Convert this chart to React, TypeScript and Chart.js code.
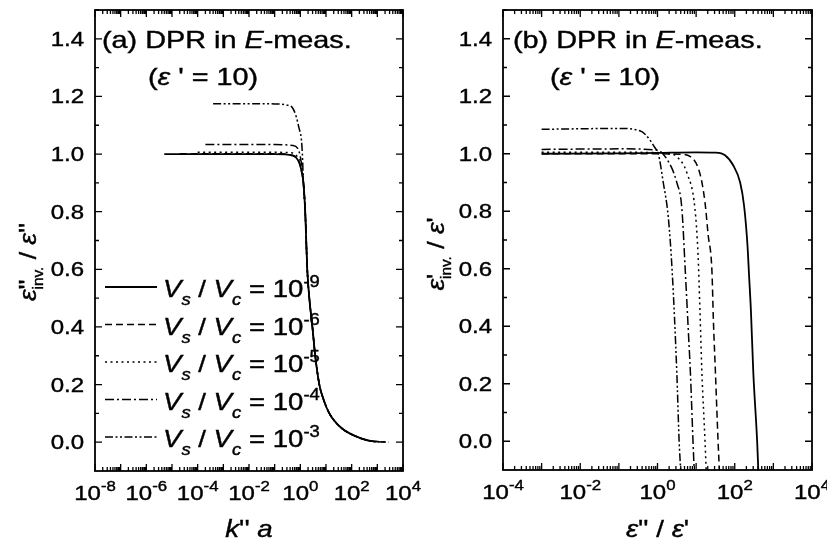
import React, { useEffect, useRef } from "react";
import { Chart, registerables } from "chart.js";
Chart.register(...registerables);

const FONT = '"Liberation Sans", Arial, Helvetica, sans-serif';

// ---------- data: panel (a)  x = k''a, y = eps''_inv / eps'' ----------
const aX_9 = [5e-6, 1e-4, 0.01, 0.1, 0.5, 0.91, 1.12, 1.32, 1.55, 1.86, 2.24, 2.95, 3.8, 5.5, 7.9, 13.5, 39, 148, 480, 890];
const aY_9 = [1.0, 1.0, 1.0, 1.0, 0.995, 0.97, 0.94, 0.9, 0.8, 0.6, 0.5, 0.4, 0.3, 0.2, 0.15, 0.1, 0.05, 0.02, 0.005, 0.002];
const aX_6 = [2e-5, 1e-4, 0.01, 0.1, 0.5, 0.91, 1.12, 1.32, 1.55, 1.86, 2.24, 2.95, 3.8, 5.5, 7.9, 13.5, 39, 148, 480, 1260];
const aY_6 = [1.001, 1.001, 1.001, 1.001, 0.996, 0.97, 0.94, 0.9, 0.8, 0.6, 0.5, 0.4, 0.3, 0.2, 0.15, 0.1, 0.05, 0.02, 0.005, 0.001];
const aX_5 = [1e-4, 0.01, 0.1, 0.5, 0.79, 1.0, 1.12, 1.32, 1.55, 1.86, 2.24, 2.95, 3.8, 5.5, 7.9, 13.5, 39, 148, 480, 1600];
const aY_5 = [1.006, 1.006, 1.006, 1.004, 0.99, 0.975, 0.94, 0.9, 0.8, 0.6, 0.5, 0.4, 0.3, 0.2, 0.15, 0.1, 0.05, 0.02, 0.005, 0.001];
const aX_4 = [2e-4, 0.01, 0.1, 0.5, 0.79, 1.05, 1.32, 1.55, 1.86, 2.24, 2.95, 3.8, 5.5, 7.9, 13.5, 39, 148, 480, 2000];
const aY_4 = [1.033, 1.033, 1.033, 1.03, 1.02, 0.98, 0.9, 0.8, 0.6, 0.5, 0.4, 0.3, 0.2, 0.15, 0.1, 0.05, 0.02, 0.005, 0.001];
const aX_3 = [4e-4, 0.01, 0.1, 0.29, 0.5, 0.69, 0.89, 1.1, 1.2, 1.32, 1.55, 1.86, 2.24, 2.95, 3.8, 5.5, 7.9, 13.5, 39, 148, 480, 890, 2800];
const aY_3 = [1.175, 1.175, 1.174, 1.17, 1.16, 1.13, 1.09, 1.05, 1.0, 0.9, 0.8, 0.6, 0.5, 0.4, 0.3, 0.2, 0.15, 0.1, 0.05, 0.02, 0.005, 0.002, 0.0];

// ---------- data: panel (b)  x = eps''/eps', y = eps'_inv / eps' ----------
const bX_9 = [0.001, 0.1, 1, 10, 31.6, 56, 91, 138, 174, 214, 234, 263, 302, 380, 407];
const bY_9 = [1.0, 1.001, 1.003, 1.005, 1.004, 0.995, 0.96, 0.9, 0.82, 0.68, 0.58, 0.45, 0.24, 0.0, -0.1];
const bX_6 = [0.001, 0.1, 1, 4, 7.1, 12.6, 17, 20.4, 25.7, 28, 31.6, 37, 40];
const bY_6 = [1.0, 1.0, 1.0, 0.998, 0.99, 0.93, 0.83, 0.72, 0.59, 0.42, 0.24, 0.0, -0.1];
const bX_5 = [0.001, 0.1, 1, 2, 3.16, 5.9, 9.3, 11.2, 12.6, 14.1, 17, 18.2];
const bY_5 = [1.005, 1.005, 1.004, 1.0, 0.99, 0.93, 0.81, 0.65, 0.45, 0.24, 0.0, -0.1];
const bX_4 = [0.001, 0.1, 1, 1.78, 3.16, 4.27, 5.25, 6.3, 7.1, 8.3, 8.9];
const bY_4 = [1.015, 1.017, 1.012, 0.98, 0.9, 0.81, 0.59, 0.38, 0.24, 0.0, -0.1];
const bX_3 = [0.001, 0.1, 0.35, 0.5, 0.87, 1.05, 1.41, 1.9, 2.4, 3.16, 3.63, 3.98];
const bY_3 = [1.085, 1.088, 1.08, 1.065, 1.02, 1.0, 0.9, 0.78, 0.59, 0.24, 0.0, -0.1];

// ---------- labels ----------
const legendExponents = ["-9", "-6", "-5", "-4", "-3"];
const yTickLabels = ["0.0", "0.2", "0.4", "0.6", "0.8", "1.0", "1.2", "1.4"];
const aXTickExps = [-8, -6, -4, -2, 0, 2, 4];
const bXTickExps = [-4, -2, 0, 2, 4];

const STYLES = [
  { dash: [] as number[], width: 1.8 },
  { dash: [7, 4], width: 1.5 },
  { dash: [2, 3.5], width: 1.5 },
  { dash: [9, 3, 2, 3], width: 1.5 },
  { dash: [8, 2.5, 2, 2.5, 2, 2.5], width: 1.5 },
];

type Part = { t: string; size: number; italic?: boolean; dy?: number; noAdv?: boolean };
const fontOf = (p: Part) => `${p.italic ? "italic " : ""}${p.size}px ${FONT}`;

function drawParts(ctx: CanvasRenderingContext2D, parts: Part[], x: number, y: number, align: string, sx: number) {
  const ws: number[] = [];
  let w = 0;
  for (const p of parts) {
    ctx.font = fontOf(p);
    const m = ctx.measureText(p.t).width * sx;
    ws.push(m);
    if (!p.noAdv) w += m;
  }
  let cx = align === "center" ? x - w / 2 : align === "right" ? x - w : x;
  parts.forEach((p, i) => {
    ctx.save();
    ctx.font = fontOf(p);
    ctx.textAlign = "left";
    ctx.textBaseline = "alphabetic";
    ctx.fillStyle = "#000";
    ctx.strokeStyle = "#000";
    ctx.lineWidth = 0.4;
    ctx.setLineDash([]);
    ctx.translate(cx, y + (p.dy || 0));
    ctx.scale(sx, 1);
    ctx.fillText(p.t, 0, 0);
    ctx.strokeText(p.t, 0, 0);
    ctx.restore();
    if (!p.noAdv) cx += ws[i];
  });
}

interface PanelCfg {
  xMin: number;
  xMax: number;
  firstDecade: number;
  lastDecade: number;
  tickExps: number[];
  series: { x: number[]; y: number[] }[];
  pad: { left: number; right: number; top: number; bottom: number };
  title: Part[];
  titleX: number;
  sub: Part[];
  subX: number;
  yTitle: Part[];
  yTitleX: number;
  yTitleY: number;
  xTitle: Part[];
  legend: boolean;
}

function makePlugin(cfg: PanelCfg) {
  return {
    id: "customAxes",
    afterDraw(chart: any) {
      const ctx: CanvasRenderingContext2D = chart.ctx;
      const a = chart.chartArea;
      const xs = chart.scales.x;
      const ys = chart.scales.y;
      ctx.save();
      ctx.strokeStyle = "#000";
      ctx.setLineDash([]);
      ctx.lineWidth = 1.3;
      ctx.beginPath();
      const seg = (x1: number, y1: number, x2: number, y2: number) => {
        ctx.moveTo(x1, y1);
        ctx.lineTo(x2, y2);
      };
      for (let d = cfg.firstDecade; d <= cfg.lastDecade; d++) {
        const px = xs.getPixelForValue(Math.pow(10, d));
        seg(px, a.bottom, px, a.bottom - 7);
        seg(px, a.top, px, a.top + 7);
        if (d < cfg.lastDecade) {
          for (let m = 2; m <= 9; m++) {
            const p = xs.getPixelForValue(m * Math.pow(10, d));
            seg(p, a.bottom, p, a.bottom - 4);
            seg(p, a.top, p, a.top + 4);
          }
        }
      }
      yTickLabels.forEach((lab) => {
        const v = parseFloat(lab);
        const py = ys.getPixelForValue(v);
        seg(a.left, py, a.left + 7, py);
        seg(a.right, py, a.right - 7, py);
        const pm = ys.getPixelForValue(v + 0.1);
        seg(a.left, pm, a.left + 4, pm);
        seg(a.right, pm, a.right - 4, pm);
      });
      ctx.stroke();
      ctx.lineWidth = 1.8;
      ctx.strokeRect(a.left, a.top, a.right - a.left, a.bottom - a.top);
      ctx.restore();

      // y tick labels
      yTickLabels.forEach((lab) => {
        const py = ys.getPixelForValue(parseFloat(lab));
        drawParts(ctx, [{ t: lab, size: 20 }], a.left - 11, py + 7, "right", 1.2);
      });
      // x tick labels
      cfg.tickExps.forEach((e) => {
        const px = xs.getPixelForValue(Math.pow(10, e));
        drawParts(ctx, [{ t: "10", size: 20 }, { t: String(e), size: 14, dy: -9 }], px, a.bottom + 29, "center", 1.2);
      });
      // annotation
      drawParts(ctx, cfg.title, cfg.titleX, a.top + 38, "left", 1.2);
      drawParts(ctx, cfg.sub, cfg.subX, a.top + 75, "left", 1.2);
      // axis titles
      drawParts(ctx, cfg.xTitle, (a.left + a.right) / 2, 537, "center", 1.15);
      ctx.save();
      ctx.translate(cfg.yTitleX, cfg.yTitleY);
      ctx.rotate(-Math.PI / 2);
      drawParts(ctx, cfg.yTitle, 0, 0, "center", 1.1);
      ctx.restore();

      // legend
      if (cfg.legend) {
        legendExponents.forEach((ex, i) => {
          const ry = 287 + i * 37.5;
          ctx.save();
          ctx.strokeStyle = "#000";
          ctx.lineWidth = STYLES[i].width;
          ctx.setLineDash(STYLES[i].dash);
          ctx.beginPath();
          ctx.moveTo(105, ry);
          ctx.lineTo(157, ry);
          ctx.stroke();
          ctx.restore();
          drawParts(
            ctx,
            [
              { t: "V", size: 24, italic: true },
              { t: "s", size: 16, italic: true, dy: 8 },
              { t: " / ", size: 24 },
              { t: "V", size: 24, italic: true },
              { t: "c", size: 16, italic: true, dy: 8 },
              { t: " = 10", size: 24 },
              { t: ex, size: 16, dy: -10 },
            ],
            163,
            ry + 10,
            "left",
            1.15
          );
        });
      }
    },
  };
}

const PANEL_A: PanelCfg = {
  xMin: 1e-8,
  xMax: 1e4,
  firstDecade: -8,
  lastDecade: 4,
  tickExps: aXTickExps,
  series: [
    { x: aX_9, y: aY_9 },
    { x: aX_6, y: aY_6 },
    { x: aX_5, y: aY_5 },
    { x: aX_4, y: aY_4 },
    { x: aX_3, y: aY_3 },
  ],
  pad: { left: 95, right: 827 - 403, top: 10, bottom: 541 - 471 },
  title: [
    { t: "(a) DPR in ", size: 24 },
    { t: "E", size: 24, italic: true },
    { t: "-meas.", size: 24 },
  ],
  titleX: 102,
  sub: [
    { t: "(", size: 24 },
    { t: "ε", size: 24, italic: true },
    { t: " ' = 10)", size: 24 },
  ],
  subX: 148,
  yTitle: [
    { t: "ε", size: 24, italic: true },
    { t: "''", size: 24, noAdv: true },
    { t: "inv.", size: 14, dy: 7 },
    { t: " / ", size: 24 },
    { t: "ε", size: 24, italic: true },
    { t: "''", size: 24 },
  ],
  yTitleX: 36,
  yTitleY: 262,
  xTitle: [
    { t: "k", size: 24, italic: true },
    { t: "'' ", size: 24 },
    { t: "a", size: 24, italic: true },
  ],
  legend: true,
};

const PANEL_B: PanelCfg = {
  xMin: 1e-4,
  xMax: 1e4,
  firstDecade: -4,
  lastDecade: 4,
  tickExps: bXTickExps,
  series: [
    { x: bX_9, y: bY_9 },
    { x: bX_6, y: bY_6 },
    { x: bX_5, y: bY_5 },
    { x: bX_4, y: bY_4 },
    { x: bX_3, y: bY_3 },
  ],
  pad: { left: 503, right: 827 - 812, top: 10, bottom: 541 - 470 },
  title: [
    { t: "(b) DPR in ", size: 24 },
    { t: "E", size: 24, italic: true },
    { t: "-meas.", size: 24 },
  ],
  titleX: 513,
  sub: [
    { t: "(", size: 24 },
    { t: "ε", size: 24, italic: true },
    { t: " ' = 10)", size: 24 },
  ],
  subX: 550,
  yTitle: [
    { t: "ε", size: 24, italic: true },
    { t: "'", size: 24, noAdv: true },
    { t: "inv.", size: 14, dy: 7 },
    { t: " / ", size: 24 },
    { t: "ε", size: 24, italic: true },
    { t: "'", size: 24 },
  ],
  yTitleX: 444,
  yTitleY: 254,
  xTitle: [
    { t: "ε", size: 24, italic: true },
    { t: "'' / ", size: 24 },
    { t: "ε", size: 24, italic: true },
    { t: "'", size: 24 },
  ],
  legend: false,
};

function Panel({ cfg }: { cfg: PanelCfg }) {
  const ref = useRef<HTMLCanvasElement | null>(null);
  useEffect(() => {
    if (!ref.current) return;
    const chart = new Chart(ref.current, {
      type: "line",
      data: {
        datasets: cfg.series.map((s, i) => ({
          data: s.x.map((x, j) => ({ x, y: s.y[j] })),
          borderColor: "#000",
          borderWidth: STYLES[i].width,
          borderDash: STYLES[i].dash,
          pointRadius: 0,
          fill: false,
          cubicInterpolationMode: "monotone",
        })),
      },
      options: {
        responsive: false,
        maintainAspectRatio: false,
        animation: false,
        devicePixelRatio: 1,
        events: [],
        layout: { padding: cfg.pad },
        scales: {
          x: { type: "logarithmic", min: cfg.xMin, max: cfg.xMax, display: false },
          y: { type: "linear", min: -0.1, max: 1.5, display: false },
        },
        plugins: { legend: { display: false }, tooltip: { enabled: false } },
      },
      plugins: [makePlugin(cfg)],
    } as any);
    return () => chart.destroy();
  }, [cfg]);
  return (
    <canvas
      ref={ref}
      width={827}
      height={541}
      style={{ position: "absolute", left: 0, top: 0, width: 827, height: 541 }}
    />
  );
}

export default function App() {
  return (
    <div style={{ position: "absolute", left: 0, top: 0, width: 827, height: 541, background: "#fff" }}>
      <Panel cfg={PANEL_A} />
      <Panel cfg={PANEL_B} />
    </div>
  );
}
